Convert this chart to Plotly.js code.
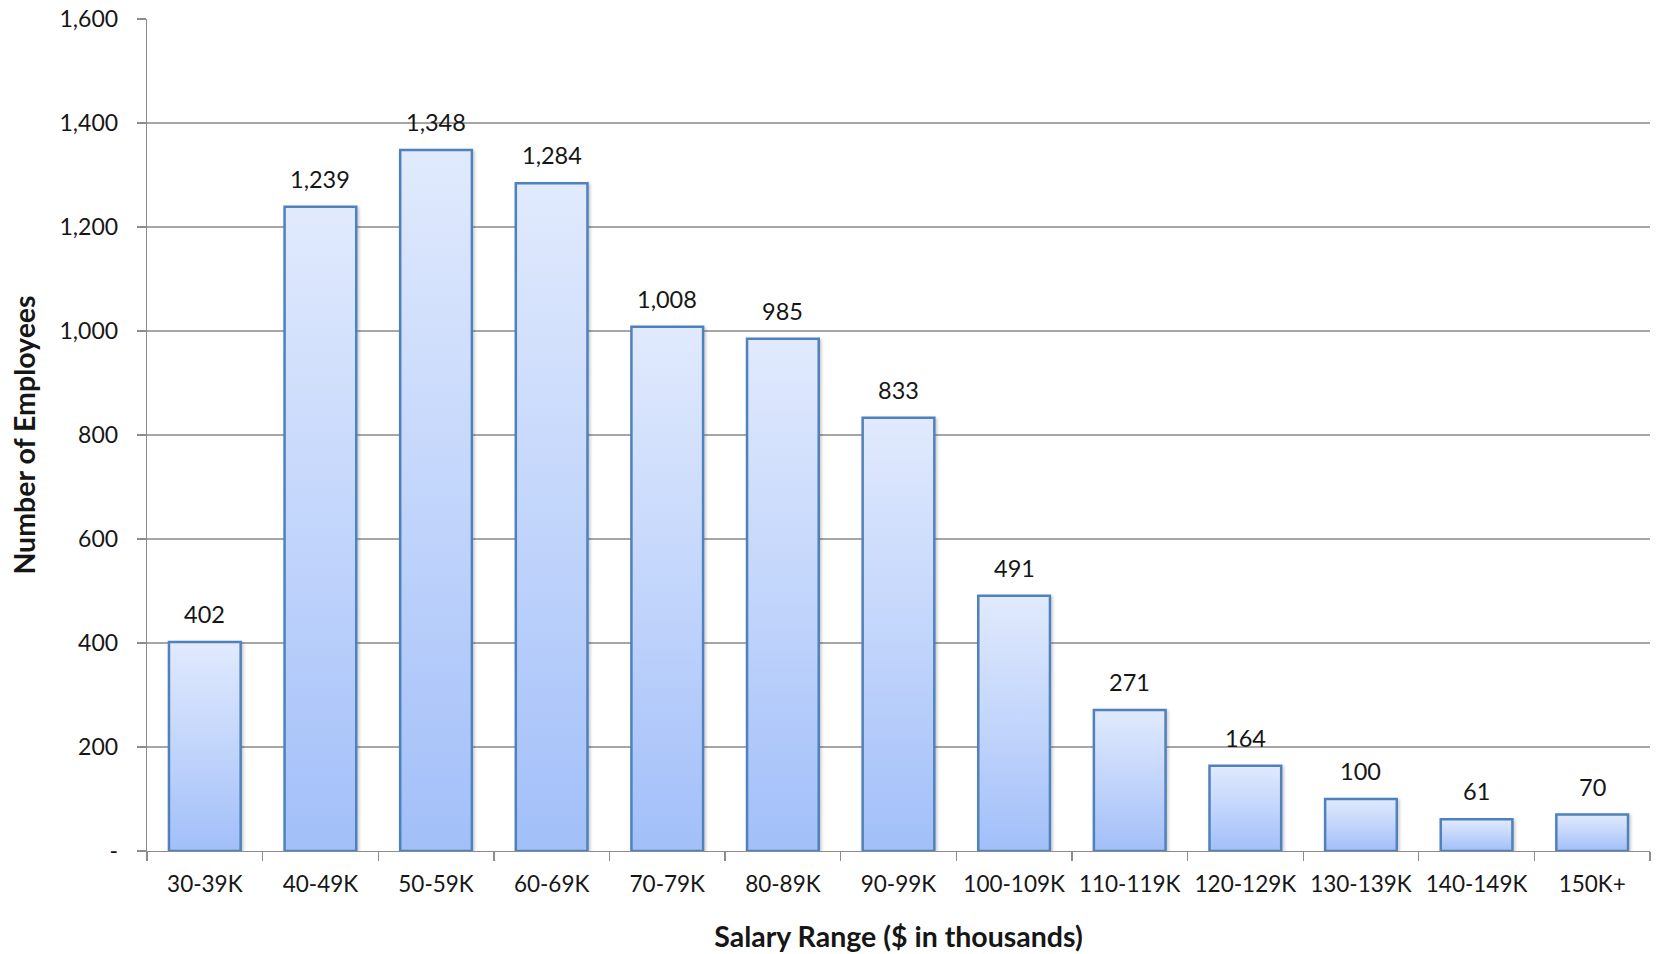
<!DOCTYPE html>
<html>
<head>
<meta charset="utf-8">
<script src="https://cdn.plot.ly/plotly-3.0.1.min.js"></script>
<style>
  html, body { margin: 0; padding: 0; background: #fff; }
  #chart { width: 1658px; height: 954px; }
</style>
</head>
<body>
<div id="chart"></div>
<script>
// Employee counts by salary band
const categories = ["30-39K", "40-49K", "50-59K", "60-69K", "70-79K", "80-89K", "90-99K",
                    "100-109K", "110-119K", "120-129K", "130-139K", "140-149K", "150K+"];
const employees = [402, 1239, 1348, 1284, 1008, 985, 833, 491, 271, 164, 100, 61, 70];

const yTickVals = [0, 200, 400, 600, 800, 1000, 1200, 1400, 1600];
const yTickText = ["-", "200", "400", "600", "800", "1,000", "1,200", "1,400", "1,600"];

const FONT = "Lato, 'Open Sans', sans-serif";
const INK = "#161616";

const trace = {
  type: "bar",
  x: categories,
  y: employees,
  marker: {
    color: "#bcd1fb",
    line: { color: "#4f81bd", width: 2.5 }
  },
  hoverinfo: "x+y"
};

// value labels above each bar
const labels = categories.map((c, i) => ({
  x: c,
  y: employees[i],
  text: employees[i].toLocaleString("en-US"),
  showarrow: false,
  xref: "x",
  yref: "y",
  yanchor: "bottom",
  yshift: 12,
  font: { family: FONT, size: 23.5, color: INK }
}));

const layout = {
  width: 1658,
  height: 954,
  paper_bgcolor: "#ffffff",
  plot_bgcolor: "#ffffff",
  margin: { l: 147, r: 8, t: 19, b: 103 },
  bargap: 0.38,
  showlegend: false,
  font: { family: FONT, size: 22, color: INK },
  xaxis: {
    type: "category",
    tickson: "boundaries",
    ticks: "outside",
    ticklen: 9,
    tickcolor: "#8c8c8c",
    tickwidth: 1.3,
    showline: true,
    linecolor: "#8c8c8c",
    linewidth: 1.3,
    showgrid: false,
    ticklabelstandoff: 13,
    tickfont: { family: FONT, size: 22.5, color: INK },
    title: {
      text: "Salary Range ($ in thousands)",
      font: { family: FONT, size: 28.5, color: INK, weight: "bold" },
      standoff: 30
    },
    automargin: false
  },
  yaxis: {
    range: [0, 1600],
    tickvals: yTickVals,
    ticktext: yTickText,
    ticks: "outside",
    ticklen: 9,
    tickcolor: "#8c8c8c",
    tickwidth: 1.3,
    showline: true,
    linecolor: "#8c8c8c",
    linewidth: 1.3,
    showgrid: true,
    gridcolor: "#a6a6a6",
    gridwidth: 1.2,
    zeroline: false,
    ticklabelstandoff: 14,
    tickfont: { family: FONT, size: 23, color: INK },
    title: {
      text: "Number of Employees",
      font: { family: FONT, size: 28.5, color: INK, weight: "bold" },
      standoff: 15
    },
    automargin: false
  },
  annotations: labels
};

Plotly.newPlot("chart", [trace], layout, { displayModeBar: false, staticPlot: true }).then(gd => {
  // vertical light-to-blue gradient and soft shadow on each bar
  const svg = gd.querySelector(".main-svg");
  const NS = "http://www.w3.org/2000/svg";
  let defs = svg.querySelector("defs");
  if (!defs) { defs = document.createElementNS(NS, "defs"); svg.insertBefore(defs, svg.firstChild); }

  const grad = document.createElementNS(NS, "linearGradient");
  grad.setAttribute("id", "barFill");
  grad.setAttribute("x1", "0"); grad.setAttribute("y1", "0");
  grad.setAttribute("x2", "0"); grad.setAttribute("y2", "1");
  [["0", "#e1eafd"], ["0.5", "#c2d5fb"], ["1", "#a2bff9"]].forEach(([o, c]) => {
    const s = document.createElementNS(NS, "stop");
    s.setAttribute("offset", o);
    s.setAttribute("stop-color", c);
    grad.appendChild(s);
  });
  defs.appendChild(grad);

  const filt = document.createElementNS(NS, "filter");
  filt.setAttribute("id", "barShadow");
  filt.setAttribute("x", "-20%"); filt.setAttribute("y", "-20%");
  filt.setAttribute("width", "140%"); filt.setAttribute("height", "140%");
  filt.innerHTML = '<feDropShadow dx="1.5" dy="1.5" stdDeviation="1.5" flood-color="#000" flood-opacity="0.22"/>';
  defs.appendChild(filt);

  gd.querySelectorAll(".bars .point path").forEach(p => {
    p.style.fill = "url(#barFill)";
    p.setAttribute("filter", "url(#barShadow)");
  });
});
</script>
</body>
</html>
